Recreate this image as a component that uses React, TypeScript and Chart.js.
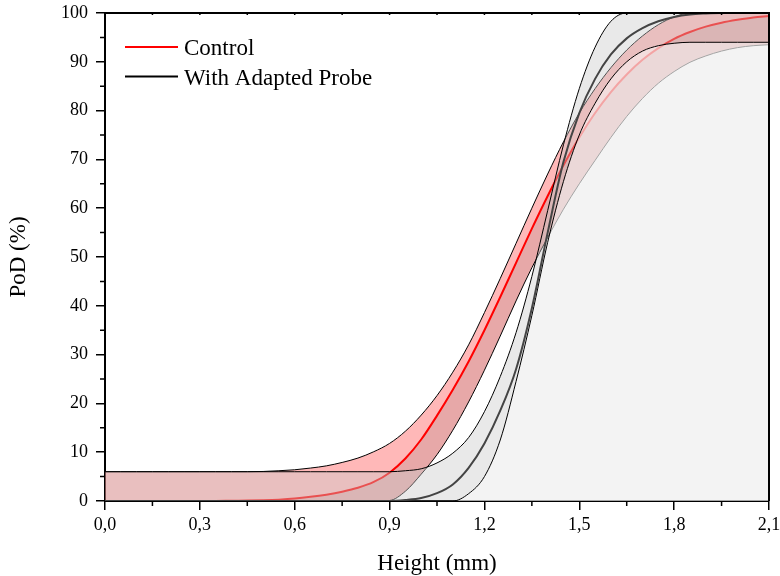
import React, { useEffect, useRef } from "react";
import { Chart, registerables } from "chart.js";

Chart.register(...registerables);

// Height (mm) sample positions shared by every curve
const HEIGHT_MM = [0, 0.05, 0.1, 0.15, 0.2, 0.25, 0.3, 0.35, 0.4, 0.45, 0.5, 0.55, 0.6, 0.65, 0.7, 0.75, 0.8, 0.85, 0.9, 0.95, 1.0, 1.05, 1.1, 1.15, 1.2, 1.25, 1.3, 1.35, 1.4, 1.45, 1.5, 1.55, 1.6, 1.65, 1.7, 1.75, 1.8, 1.85, 1.9, 1.95, 2.0, 2.05, 2.1];

// Control: PoD fit and confidence bounds (%)
const CONTROL_FIT = [0, 0, 0, 0, 0, 0, 0, 0, 0.05, 0.08, 0.15, 0.28, 0.5, 0.85, 1.3, 1.9, 2.7, 3.9, 5.8, 8.7, 12.6, 17.5, 22.8, 28.6, 35, 41.8, 48.8, 55.8, 62.5, 68.8, 74.5, 79.5, 83.8, 87.4, 90.4, 92.8, 94.7, 96.1, 97.2, 98.0, 98.6, 99.1, 99.4];
const CONTROL_UPPER = [6, 6, 6, 6, 6, 6, 6, 6, 6, 6, 6.05, 6.2, 6.4, 6.75, 7.2, 7.9, 8.8, 10.1, 11.8, 14.3, 17.6, 21.6, 26.4, 32, 38.6, 45.6, 52.8, 60, 67, 73.6, 79.5, 84.5, 88.8, 92.4, 95.3, 97.6, 99.2, 100, 100, 100, 100, 100, 100];
const CONTROL_LOWER = [0, 0, 0, 0, 0, 0, 0, 0, 0, 0, 0, 0, 0, 0, 0, 0, 0, 0, 0.1, 2, 5.5, 9.5, 14.5, 20.3, 26.8, 33.8, 41, 47.8, 54, 59.8, 65, 69.8, 74.5, 78.8, 82.5, 85.6, 88, 89.9, 91.2, 92.2, 92.9, 93.3, 93.5];

// With adapted probe: PoD fit and confidence bounds (%)
const PROBE_FIT = [0, 0, 0, 0, 0, 0, 0, 0, 0, 0, 0, 0, 0, 0, 0, 0, 0, 0, 0, 0.2, 0.6, 1.6, 3.4, 6.8, 11.8, 18.5, 27, 39.5, 55, 69.5, 79.5, 86.5, 91.5, 94.8, 96.9, 98.3, 99.2, 99.7, 99.9, 100, 100, 100, 100];
const PROBE_UPPER = [6, 6, 6, 6, 6, 6, 6, 6, 6, 6, 6, 6, 6, 6, 6, 6, 6, 6, 6, 6.2, 6.6, 7.8, 9.8, 13, 18.3, 25.5, 34.5, 46, 59.5, 73, 84.5, 93, 98.3, 100, 100, 100, 100, 100, 100, 100, 100, 100, 100];
const PROBE_LOWER = [0, 0, 0, 0, 0, 0, 0, 0, 0, 0, 0, 0, 0, 0, 0, 0, 0, 0, 0, 0, 0, 0, 0, 1.5, 5, 12.5, 24.5, 38, 53, 65.5, 75, 81.5, 86.5, 90, 92.2, 93.3, 93.8, 94, 94, 94, 94, 94, 94];

// Axes
const X_TICKS = [0, 0.3, 0.6, 0.9, 1.2, 1.5, 1.8, 2.1];
const X_MINOR = [0.15, 0.45, 0.75, 1.05, 1.35, 1.65, 1.95];
const Y_MINOR = [5, 15, 25, 35, 45, 55, 65, 75, 85, 95];
const X_TITLE = "Height (mm)";
const Y_TITLE = "PoD (%)";

// Legend
const LEGEND_LABELS = ["Control", "With Adapted Probe"];
const LEGEND_COLORS = ["#ff0000", "#000000"];

const FONT = '"Liberation Serif", "Times New Roman", serif';

const pts = (ys: number[]) => HEIGHT_MM.map((x, i) => ({ x, y: ys[i] }));

const framePlugin = {
  id: "frameAndLegend",
  afterDraw(chart: any) {
    const { ctx, chartArea: a, scales } = chart;
    const x = scales.x;
    const y = scales.y;
    ctx.save();
    ctx.strokeStyle = "#000";
    ctx.lineWidth = 2;
    ctx.beginPath();
    ctx.moveTo(a.left, a.top);
    ctx.lineTo(a.right, a.top);
    ctx.lineTo(a.right, a.bottom);
    ctx.stroke();
    ctx.lineWidth = 1.5;
    ctx.beginPath();
    for (const v of X_MINOR) {
      const px = x.getPixelForValue(v);
      ctx.moveTo(px, a.bottom);
      ctx.lineTo(px, a.bottom + 5);
    }
    for (const v of [...X_TICKS, ...X_MINOR]) {
      const px = x.getPixelForValue(v);
      ctx.moveTo(px, a.top);
      ctx.lineTo(px, a.top + 2);
    }
    for (const v of Y_MINOR) {
      const py = y.getPixelForValue(v);
      ctx.moveTo(a.left, py);
      ctx.lineTo(a.left - 5, py);
    }
    ctx.stroke();

    // legend
    ctx.font = `23px ${FONT}`;
    ctx.textAlign = "left";
    ctx.textBaseline = "alphabetic";
    LEGEND_LABELS.forEach((lab, i) => {
      const ly = a.top + 34 + i * 29.5;
      ctx.strokeStyle = LEGEND_COLORS[i];
      ctx.lineWidth = 2;
      ctx.beginPath();
      ctx.moveTo(a.left + 20, ly);
      ctx.lineTo(a.left + 73, ly);
      ctx.stroke();
      ctx.fillStyle = "#000";
      ctx.fillText(lab, a.left + 79, ly + 8);
    });
    ctx.restore();
  },
};

export default function App() {
  const ref = useRef<HTMLCanvasElement | null>(null);

  useEffect(() => {
    if (!ref.current) return;
    const common = {
      pointRadius: 0,
      pointHoverRadius: 0,
      cubicInterpolationMode: "monotone" as const,
    };
    const chart = new Chart(ref.current, {
      type: "line",
      data: {
        datasets: [
          { ...common, label: "Control upper", data: pts(CONTROL_UPPER), borderColor: "#000", borderWidth: 1, backgroundColor: "rgba(255,0,0,0.28)", fill: { target: 1 }, order: 6 },
          { ...common, label: "Control", data: pts(CONTROL_FIT), borderColor: "#ff0000", borderWidth: 2, backgroundColor: "rgba(185,0,0,0.34)", fill: { target: 2 }, order: 5 },
          { ...common, label: "Control lower", data: pts(CONTROL_LOWER), borderColor: "#000", borderWidth: 1, fill: false, order: 4 },
          { ...common, label: "Probe upper", data: pts(PROBE_UPPER), borderColor: "#000", borderWidth: 1, backgroundColor: "rgba(200,200,200,0.4)", fill: { target: 4 }, order: 3 },
          { ...common, label: "Probe lower", data: pts(PROBE_LOWER), borderColor: "#000", borderWidth: 1, backgroundColor: "rgba(238,238,238,0.69)", fill: "origin", order: 2 },
          { ...common, label: "With Adapted Probe", data: pts(PROBE_FIT), borderColor: "#444444", borderWidth: 2, fill: false, order: 1 },
        ],
      },
      options: {
        animation: false,
        responsive: true,
        maintainAspectRatio: false,
        layout: { padding: { top: 13, right: 11, left: 0, bottom: 0 } },
        plugins: {
          legend: { display: false },
          tooltip: { enabled: false },
          filler: { drawTime: "beforeDatasetDraw" },
        },
        scales: {
          x: {
            type: "linear",
            min: 0,
            max: 2.1,
            afterBuildTicks: (s: any) => {
              s.ticks = X_TICKS.map((v) => ({ value: v }));
            },
            afterFit: (s: any) => {
              s.height = 75;
              s.paddingLeft = 0;
              s.paddingRight = 0;
            },
            ticks: {
              autoSkip: false,
              maxRotation: 0,
              color: "#000",
              font: { family: FONT, size: 18 },
              padding: 4,
              callback: (v: any) => Number(v).toFixed(1).replace(".", ","),
            },
            grid: { display: true, drawOnChartArea: false, drawTicks: true, tickLength: 9, color: "#000", lineWidth: 1.5 },
            border: { display: true, color: "#000", width: 2 },
            title: { display: true, text: X_TITLE, color: "#000", font: { family: FONT, size: 23 }, padding: { top: 16, bottom: -2 } },
          },
          y: {
            type: "linear",
            min: 0,
            max: 100,
            afterFit: (s: any) => {
              s.width = 105;
              s.paddingTop = 0;
              s.paddingBottom = 0;
            },
            ticks: {
              stepSize: 10,
              color: "#000",
              font: { family: FONT, size: 18 },
              padding: 8,
            },
            grid: { display: true, drawOnChartArea: false, drawTicks: true, tickLength: 9, color: "#000", lineWidth: 1.5 },
            border: { display: true, color: "#000", width: 2 },
            title: { display: true, text: Y_TITLE, color: "#000", font: { family: FONT, size: 23 }, padding: { top: 5, bottom: 0 } },
          },
        },
      },
      plugins: [framePlugin],
    });
    return () => chart.destroy();
  }, []);

  return (
    <div style={{ position: "fixed", left: 0, top: 0, width: 780, height: 576, background: "#fff" }}>
      <canvas ref={ref} />
    </div>
  );
}
